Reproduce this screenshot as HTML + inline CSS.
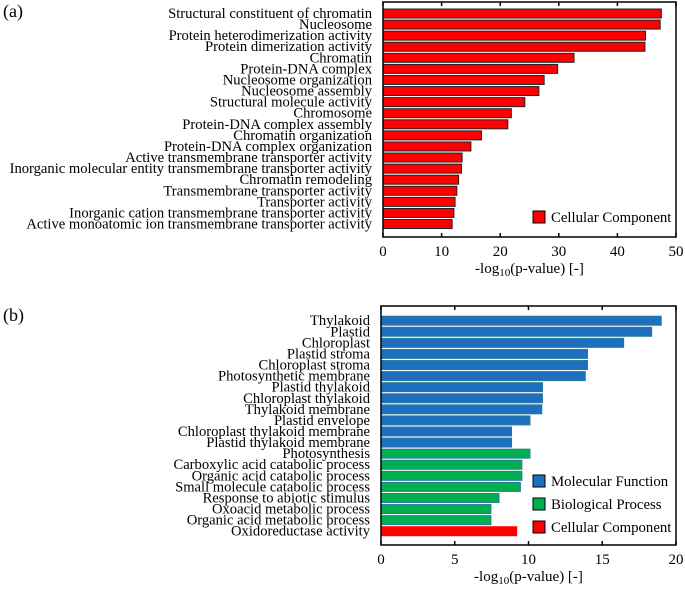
<!DOCTYPE html>
<html><head><meta charset="utf-8"><style>
html,body{margin:0;padding:0;background:#fff;width:685px;height:592px;overflow:hidden}
svg, svg text{font-family:"Liberation Serif","Times New Roman",serif}
</style></head><body>
<svg id="c" width="685" height="592"></svg>
<script>
const labelsA=["Structural constituent of chromatin","Nucleosome","Protein heterodimerization activity","Protein dimerization activity","Chromatin","Protein-DNA complex","Nucleosome organization","Nucleosome assembly","Structural molecule activity","Chromosome","Protein-DNA complex assembly","Chromatin organization","Protein-DNA complex organization","Active transmembrane transporter activity","Inorganic molecular entity transmembrane transporter activity","Chromatin remodeling","Transmembrane transporter activity","Transporter activity","Inorganic cation transmembrane transporter activity","Active monoatomic ion transmembrane transporter activity"];
const valuesA=[47.5,47.3,44.8,44.7,32.6,29.8,27.5,26.6,24.2,21.9,21.3,16.8,15.0,13.5,13.4,12.9,12.6,12.3,12.1,11.8];
const ticksA=[0,10,20,30,40,50];
const labelsB=["Thylakoid","Plastid","Chloroplast","Plastid stroma","Chloroplast stroma","Photosynthetic membrane","Plastid thylakoid","Chloroplast thylakoid","Thylakoid membrane","Plastid envelope","Chloroplast thylakoid membrane","Plastid thylakoid membrane","Photosynthesis","Carboxylic acid catabolic process","Organic acid catabolic process","Small molecule catabolic process","Response to abiotic stimulus","Oxoacid metabolic process","Organic acid metabolic process","Oxidoreductase activity"];
const valuesB=[19.0,18.35,16.45,14.0,14.0,13.85,10.95,10.95,10.9,10.1,8.85,8.85,10.1,9.55,9.55,9.45,8.0,7.45,7.45,9.2];
const catsB=["MF","MF","MF","MF","MF","MF","MF","MF","MF","MF","MF","MF","BP","BP","BP","BP","BP","BP","BP","CC"];
const ticksB=[0,5,10,15,20];
const colors={MF:"#1d6fc0",BP:"#00b050",CC:"#ff0000"};
const NS="http://www.w3.org/2000/svg";
const FF='"Liberation Serif", serif';
const svg=document.getElementById('c');
function mk(t,a,p){const e=document.createElementNS(NS,t);for(const k in a)e.setAttribute(k,a[k]);if(t==='text')e.setAttribute('font-family',FF);(p||svg).appendChild(e);return e;}
function panel(o){
 const g=mk('g',{});
 
 
 const x=v=>o.x0+(v-o.min)/(o.max-o.min)*(o.x1-o.x0);
 const y=i=>o.yc0+i*o.step;
 o.values.forEach((v,i)=>{
  const r=mk('rect',{x:x(0),y:y(i)-4.5,width:x(v)-x(0),height:9,fill:o.color(i),stroke:o.stroke(i),'stroke-width':1},g);
  
  
  const t=mk('text',{x:o.x0-11,y:y(i)+4.5,'text-anchor':'end','font-size':14.6},g);
  t.textContent=o.labels[i];
  
  
 });
 const f=mk('rect',{x:o.x0,y:o.top,width:o.x1-o.x0,height:o.bot-o.top,fill:'none',stroke:'#000','stroke-width':1.5},g);
 
 
 o.ticks.forEach(tv=>{
  mk('line',{x1:x(tv),x2:x(tv),y1:o.bot,y2:o.bot-4,stroke:'#000','stroke-width':1.5},g);
  mk('line',{x1:x(tv),x2:x(tv),y1:o.top,y2:o.top+4,stroke:'#000','stroke-width':1.5},g);
  const t=mk('text',{x:x(tv),y:o.bot+19,'text-anchor':'middle','font-size':15},g);
  t.textContent=tv;
  
  
 });
 const at=mk('text',{x:(o.x0+o.x1)/2,y:o.bot+36,'text-anchor':'middle','font-size':15},g);
 at.innerHTML='-log<tspan font-size="11" dy="3">10</tspan><tspan dy="-3">(p-value) [-]</tspan>';
 
 
 const pl=mk('text',{x:3,y:o.top+15,'font-size':18},g);
 pl.textContent=o.tag;
 
 
 o.legend.forEach((l,i)=>{
  const ly=o.legY+i*23;
  const b=mk('rect',{x:533,y:ly-6,width:12,height:12,fill:l[1],stroke:'#000','stroke-width':1},g);
  
  
  const t=mk('text',{x:551,y:ly+5,'font-size':14.8},g);
  t.textContent=l[0];
  
  
 });
}
panel({name:'panel-a',tag:'(a)',x0:383,x1:676,top:2,bot:237,min:0,max:50,yc0:13.5,step:11.08,values:valuesA,labels:labelsA,ticks:ticksA,color:()=>"#ff0000",stroke:()=>"#222",legend:[["Cellular Component","#ff0000"]],legY:217});
panel({name:'panel-b',tag:'(b)',x0:381,x1:676,top:306,bot:545,min:0,max:20,yc0:320.7,step:11.08,values:valuesB,labels:labelsB,ticks:ticksB,color:i=>colors[catsB[i]],stroke:i=>catsB[i]=="CC"?"#ff0000":"#2a7a9a",legend:[["Molecular Function","#1d6fc0"],["Biological Process","#00b050"],["Cellular Component","#ff0000"]],legY:481});
</script>
</body></html>
